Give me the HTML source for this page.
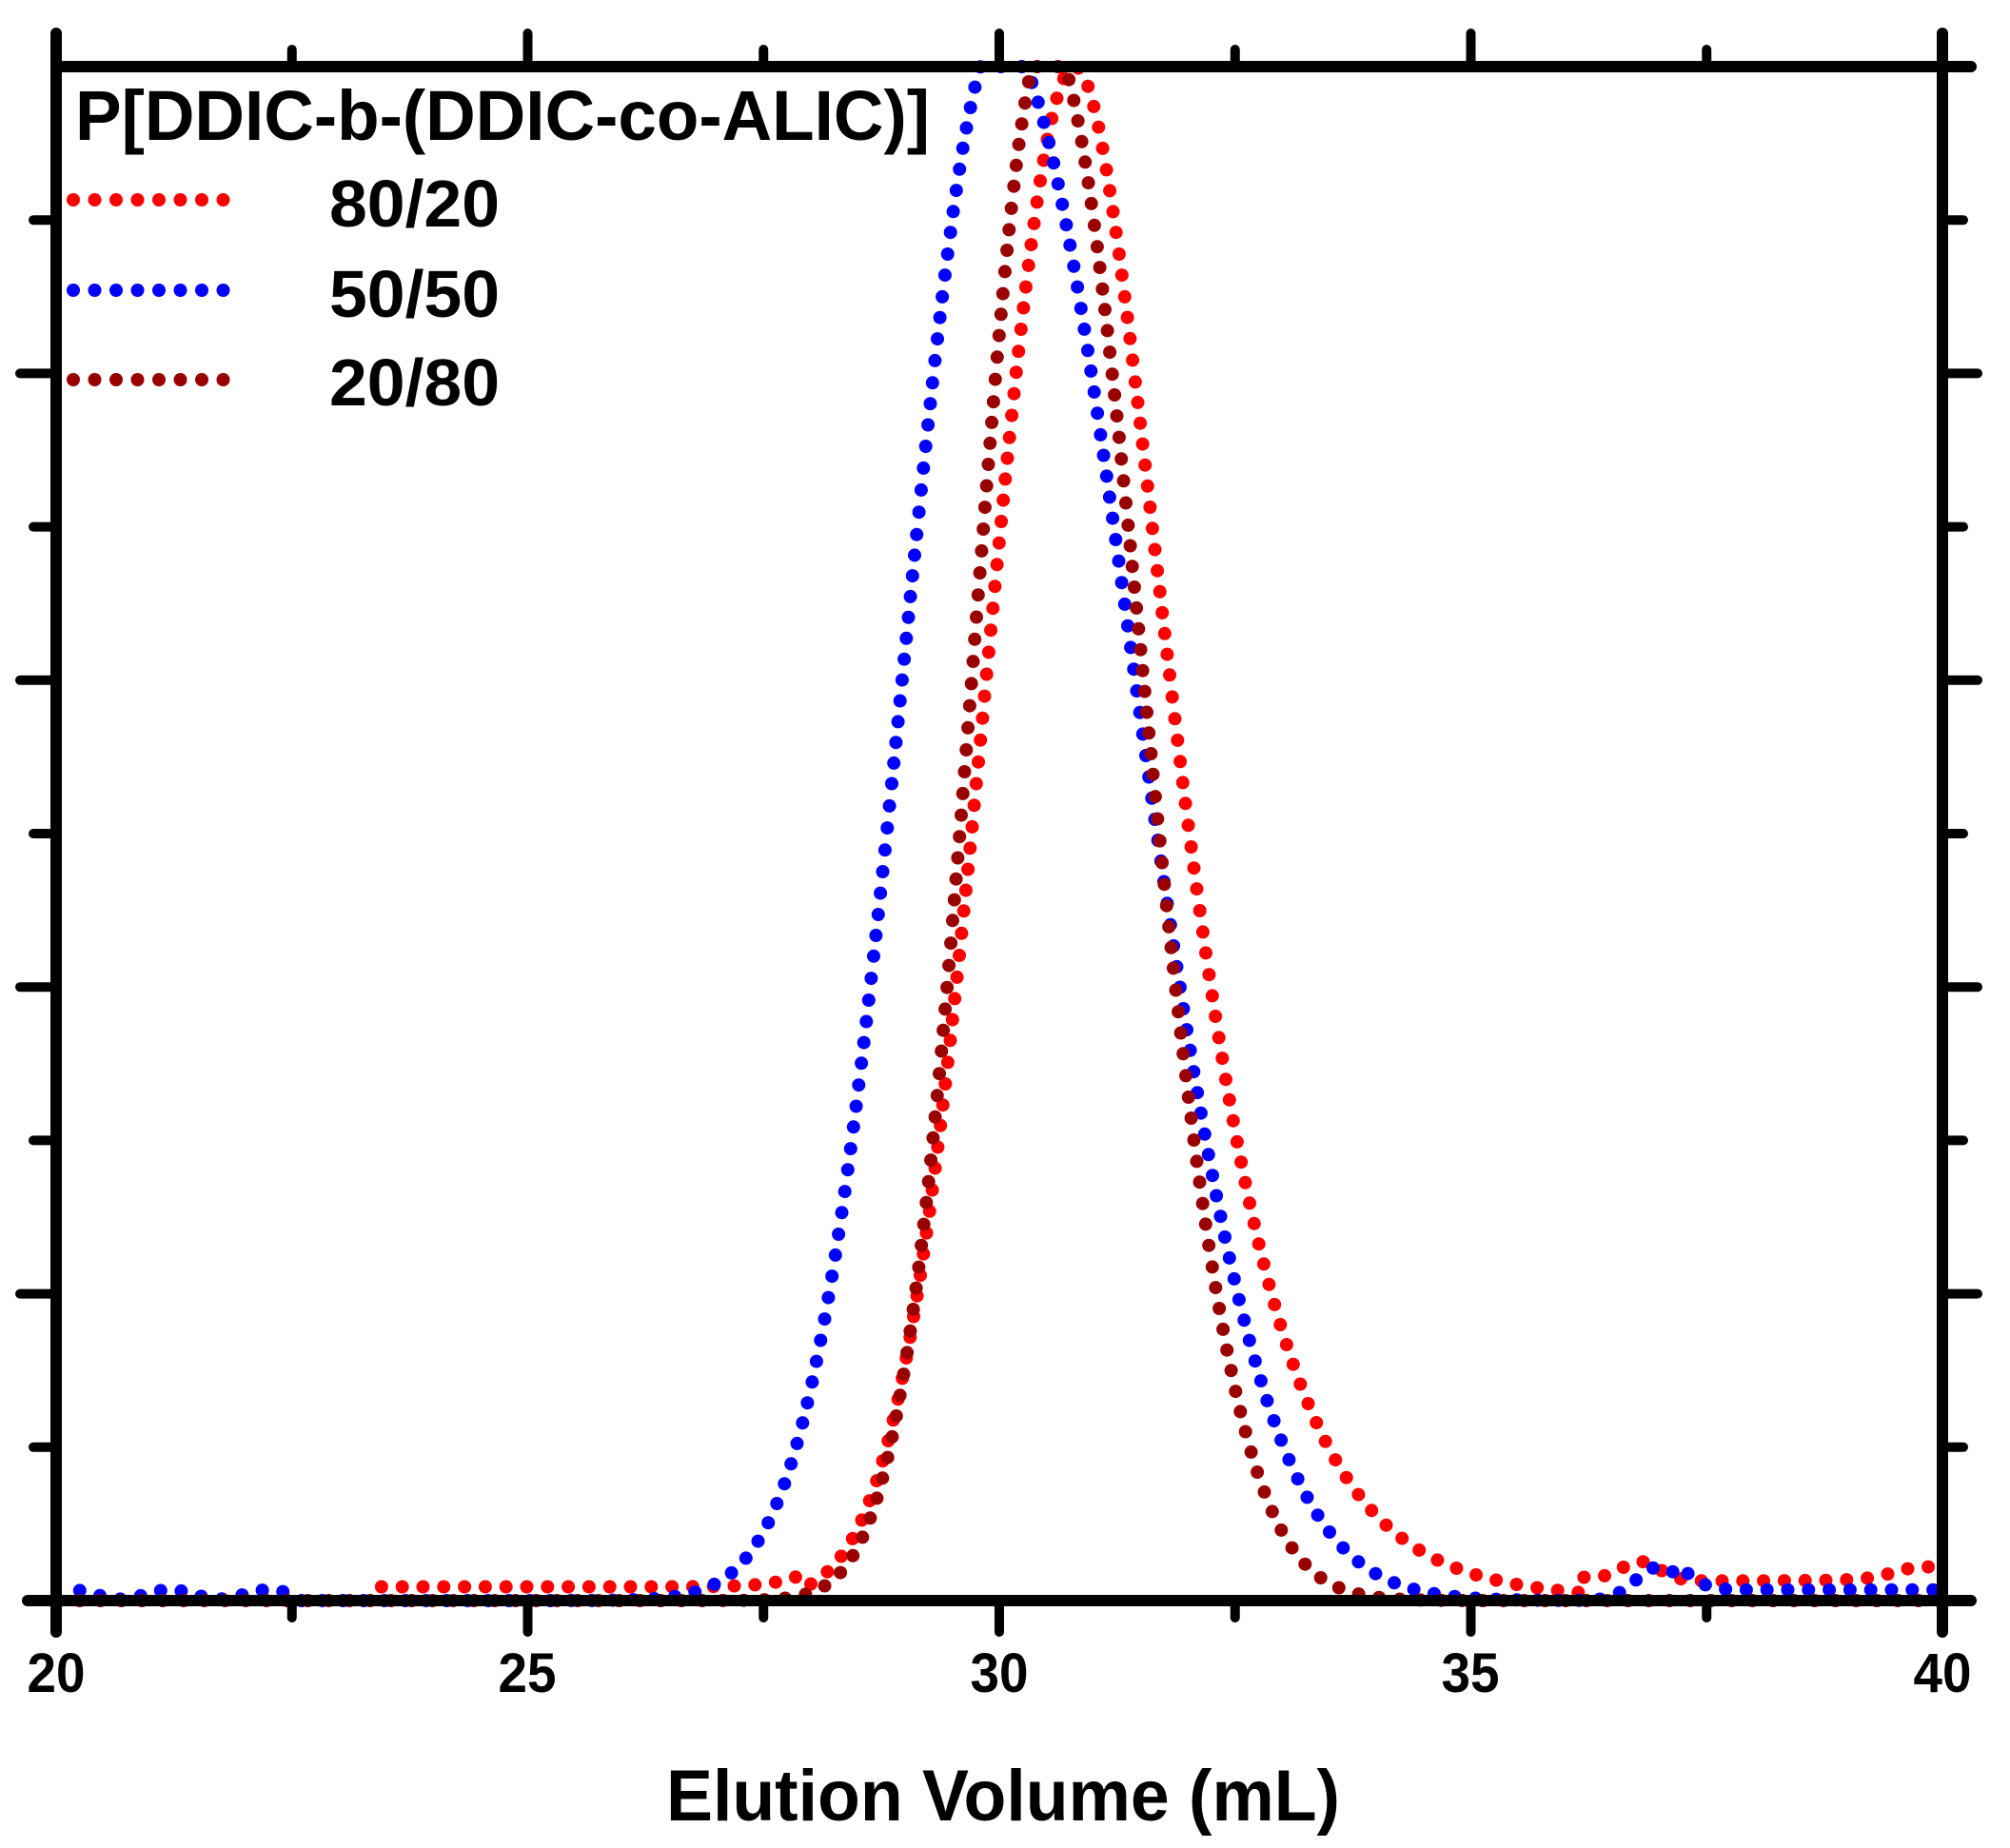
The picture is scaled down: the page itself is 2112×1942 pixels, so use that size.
<!DOCTYPE html>
<html><head><meta charset="utf-8"><style>html,body{margin:0;padding:0;background:#fff}svg{display:block}</style></head>
<body>
<svg id="s" width="2112" height="1942" viewBox="0 0 2112 1942" xmlns="http://www.w3.org/2000/svg" font-family="Liberation Sans, Arial, sans-serif" font-weight="bold">
<rect width="2112" height="1942" fill="#fff"/>
<g id="curves"></g>
<g id="axes" stroke="#000" stroke-linecap="round" fill="none"></g>
<g font-size="58" text-anchor="middle" fill="#000">
<text x="59" y="1778" textLength="61" lengthAdjust="spacingAndGlyphs">20</text>
<text x="554" y="1778" textLength="61" lengthAdjust="spacingAndGlyphs">25</text>
<text x="1050" y="1778" textLength="61" lengthAdjust="spacingAndGlyphs">30</text>
<text x="1545" y="1778" textLength="61" lengthAdjust="spacingAndGlyphs">35</text>
<text x="2041" y="1778" textLength="61" lengthAdjust="spacingAndGlyphs">40</text>
</g>
<text x="700" y="1913" font-size="76" textLength="708" lengthAdjust="spacingAndGlyphs" fill="#000">Elution Volume (mL)</text>
<text x="79" y="147" font-size="74" textLength="898" lengthAdjust="spacingAndGlyphs" fill="#000">P[DDIC-b-(DDIC-co-ALIC)]</text>
<g font-size="70" fill="#000">
<text x="346" y="238" textLength="179" lengthAdjust="spacingAndGlyphs">80/20</text>
<text x="346" y="333" textLength="179" lengthAdjust="spacingAndGlyphs">50/50</text>
<text x="346" y="426" textLength="179" lengthAdjust="spacingAndGlyphs">20/80</text>
</g>
<g id="leg"></g>
</svg>
<script>
var NS="http://www.w3.org/2000/svg";
var X0=59,X1=2041,Y0=70,Y1=1682;
function px(x){return X0+(x-20)/20*(X1-X0);}
function py(h){return Y1-h*(Y1-Y0);}
function g(x,m,s){return Math.exp(-0.5*Math.pow((x-m)/s,2));}
function asym(x,m,sl,sr){return x<m?g(x,m,sl):g(x,m,sr);}
function red(x){
 var d=x-30.8,h;
 if(d<0)h=g(x,30.8,0.93);else{var s=0.85+0.15*d;h=Math.exp(-0.5*(d/s)*(d/s));}
 var b=0;
 if(x>23.4&&x<28)b=0.009;
 if(x>36.2)b=0.01+0.004*(x-36.2)/3.8+0.012*g(x,36.8,0.2)+0.008*g(x,39.8,0.3);
 return Math.min(1,h+b);
}
function blue(x){
 var h=1.02*asym(x,30.0,1.0,1.4);
 var b=0;
 if(x<22.6)b=0.004+0.003*Math.sin(x*6);
 b+=0.022*g(x,37.0,0.25);
 if(x>37.3)b+=0.007;
 return Math.min(1,h+b);
}
function dred(x){return Math.min(1,1.02*asym(x,30.5,0.77,1.0));}
function dots(f,col,start,end){
 var G=document.getElementById('curves');
 var step=0.002,x=start,lx=px(x),ly=py(f(x)),acc=21.7,sp=21.7;
 while(x<=end){
  var nx=px(x),ny=py(f(x));
  acc+=Math.hypot(nx-lx,ny-ly);lx=nx;ly=ny;
  if(acc>=sp){acc=0;var c=document.createElementNS(NS,'circle');c.setAttribute('cx',nx.toFixed(1));c.setAttribute('cy',Math.max(Y0,ny).toFixed(1));c.setAttribute('r',7);c.setAttribute('fill',col);G.appendChild(c);}
  x+=step;
 }
}
dots(red,'#ff0000',23.45,40);
dots(blue,'#0000ff',20.25,40);
dots(dred,'#990000',20.25,40);
var L=document.getElementById('leg');
[[210,'#ff0000'],[305,'#0000ff'],[399,'#990000']].forEach(function(a){
 for(var i=0;i<8;i++){var c=document.createElementNS(NS,'circle');c.setAttribute('cx',77+i*22.5);c.setAttribute('cy',a[0]);c.setAttribute('r',7);c.setAttribute('fill',a[1]);L.appendChild(c);}
});
var A=document.getElementById('axes');
function ln(x1,y1,x2,y2,w){var l=document.createElementNS(NS,'line');l.setAttribute('x1',x1);l.setAttribute('y1',y1);l.setAttribute('x2',x2);l.setAttribute('y2',y2);l.setAttribute('stroke-width',w);A.appendChild(l);}
ln(X0,Y0,X1+30,Y0,12);ln(X0-30,Y1,X1+30,Y1,12);
ln(X0,Y0-35,X0,Y1+33,12);ln(X1,Y0-35,X1,Y1+33,12);
for(var i=0;i<=8;i++){
 var x=px(20+i*2.5),maj=i%2==0;
 if(i>0&&i<8){ln(x,Y1,x,Y1+(maj?33:18),10);ln(x,Y0,x,Y0-(maj?35:18),10);}
}
for(var j=1;j<10;j++){
 var y=Y1-j*(Y1-Y0)/10,maj=j%2==0;
 ln(X0,y,X0-(maj?38:24),y,10);ln(X1,y,X1+(maj?37:22),y,10);
}
</script>
</body></html>
